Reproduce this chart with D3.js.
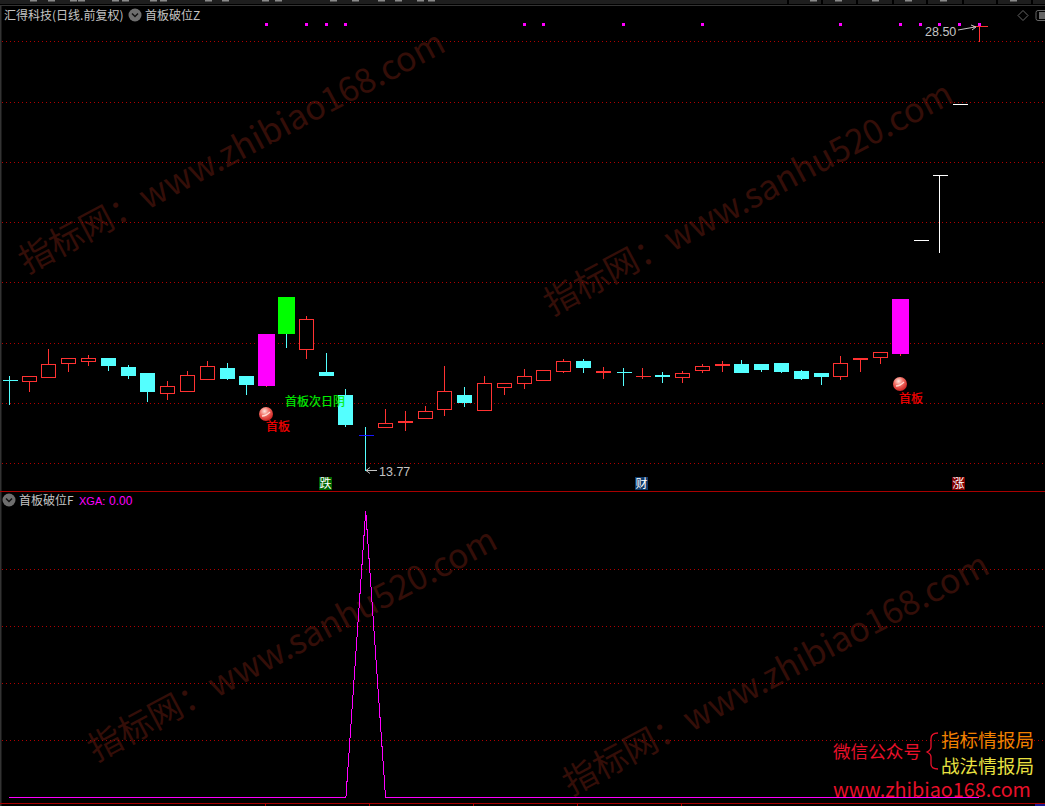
<!DOCTYPE html>
<html><head><meta charset="utf-8">
<script src="https://cdn.jsdelivr.net/npm/d3@7/dist/d3.min.js"></script>
<style>html,body{margin:0;padding:0;background:#000;overflow:hidden}svg{display:block}text{font-family:"Noto Sans CJK SC","Noto Sans",sans-serif}</style>
</head><body><svg id="c" width="1045" height="806"></svg>
<script>
const open =[16.75,16.73,16.87,17.33,17.40,17.49,17.19,16.99,16.33,16.40,16.80,17.15,16.89,16.59,19.51,17.79,17.02,16.26,14.95,15.21,15.33,15.51,15.80,16.26,15.77,16.53,16.67,16.77,17.06,17.39,16.99,17.04,16.91,16.92,16.87,17.10,17.22,17.29,17.29,17.32,17.05,16.99,16.90,17.42,17.53,17.65,21.40,23.55,25.91,28.50];
const close=[16.75,16.88,17.28,17.48,17.48,17.25,16.92,16.39,16.55,16.94,17.24,16.82,16.62,18.28,18.32,18.80,16.92,15.30,14.95,15.35,15.40,15.72,16.41,16.03,16.68,16.68,16.91,17.08,17.38,17.19,17.05,17.04,16.91,16.86,17.01,17.24,17.29,17.02,17.12,17.05,16.82,16.89,17.34,17.49,17.68,19.44,21.40,23.55,25.91,28.50];
const high =[16.92,16.88,17.81,17.48,17.64,17.52,17.29,17.02,16.76,17.09,17.42,17.35,16.89,18.28,19.51,18.91,17.69,16.49,15.23,15.82,15.76,15.93,17.25,16.58,16.92,16.71,17.15,17.08,17.49,17.49,17.22,17.19,17.19,17.05,17.09,17.32,17.42,17.45,17.29,17.32,17.12,17.02,17.59,17.49,17.68,19.44,21.40,23.55,25.91,28.50];
const low  =[15.96,16.40,16.87,17.06,17.26,17.09,16.83,16.07,16.14,16.40,16.80,16.79,16.29,16.56,17.85,17.49,16.92,15.23,13.77,15.21,15.10,15.51,15.61,15.90,15.77,16.29,16.49,16.77,17.03,17.02,16.82,16.59,16.82,16.69,16.69,17.02,17.05,17.02,17.05,17.02,16.79,16.62,16.79,17.05,17.32,17.59,21.40,21.01,25.91,28.00];
const xga  =[0,0,0,0,0,0,0,0,0,0,0,0,0,0,0,0,0,0,5.02,0,0,0,0,0,0,0,0,0,0,0,0,0,0,0,0,0,0,0,0,0,0,0,0,0,0,0,0,0,0,0];
const limitUp=[13,45];
const nextDayDown=[14];
const whiteBars=[46,47,48];
const blueDash=[18];
const topMarks=[13,15,16,17,26,27,31,35,42,45,46,47,48,49];
const priceTicks=[14,16,18,20,22,24,26,28];
const xgaTicks=[1,2,3,4];

const RED="#ff3232",CYAN="#54ffff",MAG="#ff00ff",GRID="#b00000",WM="#340e08";
const svg=d3.select("#c");
const x=d3.scaleLinear().domain([0,49]).range([9.4,979.4]);
const y=d3.scaleLinear().domain([14,28]).range([463.3,41.3]);
const y2=d3.scaleLinear().domain([0,5]).range([797.3,512]);
const px=v=>Math.floor(x(v))+.5;
const py=v=>Math.round(y(v))+.5;

svg.append("rect").attr("width",1045).attr("height",806).attr("fill","#000");
// watermarks
const marks=[["指标网：www.zhibiao168.com",27,274],["指标网：www.sanhu520.com",552,316],["指标网：www.sanhu520.com",96,762],["指标网：www.zhibiao168.com",571,796]];
svg.append("g").selectAll("text").data(marks).join("text")
 .attr("transform",d=>`translate(${d[1]},${d[2]}) rotate(-28)`)
 .attr("font-size",34).attr("fill",WM).text(d=>d[0]);

// chrome
svg.append("rect").attr("width",1045).attr("height",4).attr("fill","#1e1e1e");
svg.append("rect").attr("y",5).attr("width",1045).attr("height",1).attr("fill","#333");
svg.append("g").selectAll("rect").data([787,821,856,892,926,962,996,1031]).join("rect")
 .attr("x",d=>d).attr("width",2).attr("height",4).attr("fill","#000");
svg.append("g").selectAll("rect").data([30,48,70,78,112,122,150,160,205,222,262,275,330,352,378,395,417,428,810,835,872,905,940,1010]).join("rect")
 .attr("x",d=>d).attr("width",7).attr("height",1.5).attr("fill","#8a8a8a");
svg.append("rect").attr("x",0).attr("y",5).attr("width",1.5).attr("height",801).attr("fill","#333");

// grids
const dot=(g,sc,t)=>g.selectAll("line").data(t).join("line")
 .attr("x1",2).attr("x2",1045).attr("y1",d=>Math.round(sc(d))+.5).attr("y2",d=>Math.round(sc(d))+.5)
 .attr("stroke",GRID).attr("stroke-dasharray","1 3");
dot(svg.append("g"),y,priceTicks);
dot(svg.append("g"),y2,xgaTicks);

// separators
[491.5,803.5].forEach(v=>svg.append("line").attr("x1",0).attr("x2",1045).attr("y1",v).attr("y2",v).attr("stroke","#a80000").attr("stroke-width",1.2));
svg.append("g").selectAll("line").data([265,369,473,577,681]).join("line")
 .attr("x1",d=>d+.5).attr("x2",d=>d+.5).attr("y1",803).attr("y2",806).attr("stroke","#a80000");
svg.append("rect").attr("x",1035).attr("y",804).attr("width",10).attr("height",2).attr("fill","#1a1a90");

// candles
const data=open.map((o,i)=>({i,o,c:close[i],h:high[i],l:low[i]}));
const colorOf=d=>{
  if(whiteBars.includes(d.i))return "#fff";
  if(limitUp.includes(d.i))return RED;
  if(nextDayDown.includes(d.i))return CYAN;
  return (d.c<d.o||(d.c===d.o&&[0,18,31].includes(d.i)))?CYAN:RED;
};
const g=svg.append("g").attr("shape-rendering","crispEdges");
g.selectAll("line.w").data(data).join("line").attr("class","w")
 .attr("x1",d=>px(d.i)).attr("x2",d=>px(d.i)).attr("y1",d=>py(d.h)).attr("y2",d=>py(d.l))
 .attr("stroke",colorOf);
g.selectAll("path.b").data(data).join(enter=>enter.append("path")).attr("class","b")
 .attr("d",d=>{
   const top=py(Math.max(d.o,d.c)),c=px(d.i);
   let bot=py(Math.min(d.o,d.c));
   const big=limitUp.includes(d.i)||nextDayDown.includes(d.i);
   const hw=big?8:7;
   if(top===bot)return `M${c-hw},${top}H${c+hw+1}`;
   if(bot-top<=2)bot=top+1;
   return `M${c-hw},${top}H${c+hw}V${bot}H${c-hw}Z`;
 })
 .attr("fill",d=>{
   if(limitUp.includes(d.i))return MAG;
   if(nextDayDown.includes(d.i))return "#00ff00";
   return (d.c<d.o)?CYAN:"#000";
 })
 .attr("stroke",d=>{
   if(blueDash.includes(d.i))return "#1414ff";
   if(limitUp.includes(d.i))return MAG;
   if(nextDayDown.includes(d.i))return "#00ff00";
   return colorOf(d);
 });
// top markers
g.selectAll("rect.m").data(topMarks).join("rect").attr("class","m")
 .attr("x",d=>Math.floor(x(d))-1).attr("y",23).attr("width",3).attr("height",3).attr("fill",MAG);

// XGA line
const line=d3.line().x((d,i)=>x(i)).y(d=>y2(d));
svg.append("path").attr("d",line(xga)).attr("fill","none").attr("stroke",MAG).attr("stroke-width",1).attr("shape-rendering","crispEdges");

// titles
const T=(s,xx,yy,fs,col,anchor)=>svg.append("text").attr("x",xx).attr("y",yy).attr("font-size",fs).attr("fill",col).attr("text-anchor",anchor||"start").text(s);
const chev=(cx,cy)=>{svg.append("circle").attr("cx",cx).attr("cy",cy).attr("r",6.5).attr("fill","#6e6e6e");
 svg.append("path").attr("d",`M${cx-3},${cy-1.5}L${cx},${cy+1.5}L${cx+3},${cy-1.5}`).attr("fill","none").attr("stroke","#111").attr("stroke-width",1.5);};
T("汇得科技(日线.前复权)",4,20,12,"#c4c4c4");
chev(135,15);
T("首板破位Z",145,20,12,"#c4c4c4");
chev(9,500);
T("首板破位F",19,505,12,"#c4c4c4");
T("XGA:",79,505,11,MAG).style("font-family","Liberation Sans");
T("0.00",109,505,12,MAG).style("font-family","Liberation Sans");

// icons
svg.append("path").attr("d","M1023,10.5L1028,15.5L1023,20.5L1018,15.5Z").attr("fill","none").attr("stroke","#666");
svg.append("rect").attr("x",1036).attr("y",10.5).attr("width",14).attr("height",10).attr("rx",2).attr("fill","none").attr("stroke","#666");
svg.append("rect").attr("x",1039).attr("y",12).attr("width",6).attr("height",7).attr("fill","#666");

// price labels
T("28.50",925,36,12.5,"#c4c4c4").style("font-family","Liberation Sans");
svg.append("path").attr("d","M958,30L975,27M971,25L976,27L972,30").attr("fill","none").attr("stroke","#c4c4c4");
T("13.77",379,476,12.5,"#c4c4c4").style("font-family","Liberation Sans");
svg.append("path").attr("d","M377,470.5H366M370,467.5L366,470.5L370,473.5").attr("fill","none").attr("stroke","#c4c4c4");

// signals
const defs=svg.append("defs");
const rg=defs.append("radialGradient").attr("id","ball").attr("cx","40%").attr("cy","30%").attr("r","75%");
[[0,"#ffe8e0"],[.45,"#f06a60"],[1,"#c81818"]].forEach(s=>rg.append("stop").attr("offset",s[0]).attr("stop-color",s[1]));
[[266,414,266,431],[900,384,899,403]].forEach(b=>{
  svg.append("circle").attr("cx",b[0]).attr("cy",b[1]).attr("r",7).attr("fill","url(#ball)");
  svg.append("path").attr("d",`M${b[0]-4},${b[1]+2}Q${b[0]},${b[1]+2} ${b[0]+4},${b[1]-2}`).attr("fill","none").attr("stroke","#ffd8d0").attr("stroke-width",1.3);
  T("首板",b[2],b[3],12,"#ff0000").attr("stroke","#ff0000").attr("stroke-width",.15);
});
T("首板次日阴",285,406,12,"#00f000").attr("stroke","#00f000").attr("stroke-width",.15);

// badges
[["跌",319,"#006400"],["财",635,"#0f3a6a"],["涨",952,"#800000"]].forEach(b=>{
  svg.append("rect").attr("x",b[1]).attr("y",477).attr("width",13).attr("height",13).attr("fill",b[2]);
  T(b[0],b[1]+.5,488,12,"#fff");
});

// promo
T("微信公众号",833,758,17.6,"#e8102a");
T("指标情报局",941,747,18.6,"#f08000");
T("战法情报局",941,772.5,18.6,"#e8e040");
svg.append("path").attr("d","M938,733C933,733 931,735 931,739V747C931,750 929,751 927,752C929,753 931,754 931,757V764C931,767 933,769 938,769").attr("fill","none").attr("stroke","#e8102a").attr("stroke-width",1.3);
T("www.zhibiao168.com",833,797,19.8,"#e8102a");
</script></body></html>
